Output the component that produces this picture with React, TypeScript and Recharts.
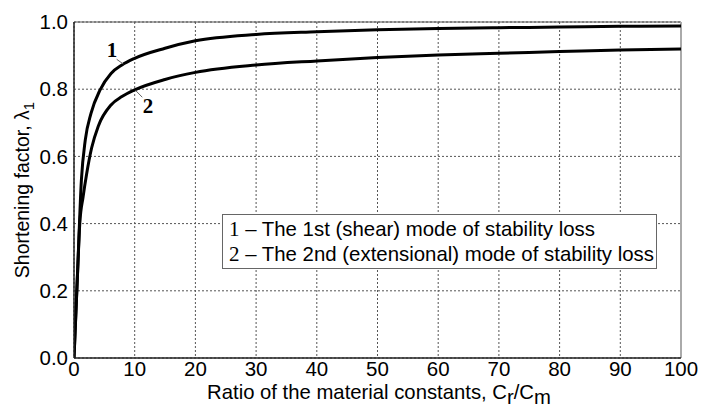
import React from "react";
import { LineChart, Line, XAxis, YAxis, CartesianGrid, ReferenceLine, ReferenceDot, Legend, Label } from "recharts";

// mode 1 (shear) and mode 2 (extensional)
const ratioShear = [0, 0.6, 1.22, 1.86, 2.8, 4.3, 6.1, 7.9, 10, 15, 20, 30, 40, 50, 60, 70, 80, 90, 100];
const lambdaShear = [0, 0.26, 0.53, 0.649, 0.728, 0.798, 0.847, 0.872, 0.892, 0.922, 0.944, 0.963, 0.971, 0.977, 0.981, 0.983, 0.985, 0.987, 0.988];
const ratioExt = [0, 0.6, 0.95, 1.5, 2.1, 2.9, 4.0, 6.1, 7.9, 10, 15, 20, 30, 40, 50, 60, 70, 80, 90, 100];
const lambdaExt = [0, 0.26, 0.4, 0.48, 0.55, 0.625, 0.69, 0.753, 0.778, 0.798, 0.829, 0.85, 0.872, 0.884, 0.894, 0.902, 0.907, 0.912, 0.917, 0.92];

const xTicks = [0, 10, 20, 30, 40, 50, 60, 70, 80, 90, 100];
const yTicks = [0, 0.2, 0.4, 0.6, 0.8, 1.0];
const modeIds = ["1", "2"];
const modeNames = ["The 1st (shear) mode of stability loss", "The 2nd (extensional) mode of stability loss"];

const shearData = ratioShear.map((x, i) => ({ x, y: lambdaShear[i] }));
const extData = ratioExt.map((x, i) => ({ x, y: lambdaExt[i] }));

const SANS = "'Liberation Sans', Arial, sans-serif";
const SERIF = "'Liberation Serif', 'Times New Roman', serif";

function XTitle() {
  return (
    <text x={379} y={398.5} textAnchor="middle" fontFamily={SANS} fontSize={20.3} fill="#000">
      Ratio of the material constants, C<tspan dy={5}>r</tspan>
      <tspan dy={-5}>/C</tspan>
      <tspan dy={5}>m</tspan>
    </text>
  );
}

function YTitle() {
  return (
    <text x={29} y={190} transform="rotate(-90, 29, 190)" textAnchor="middle" fontFamily={SANS} fontSize={19.5} fill="#000">
      Shortening factor, λ<tspan dy={5} fontSize={15}>1</tspan>
    </text>
  );
}

function LegendBox() {
  return (
    <div style={{
      border: "1.5px solid #666", background: "#fff", width: 435, height: 55, boxSizing: "border-box",
      padding: "2px 0 0 6px", fontFamily: SANS, fontSize: 20.4, lineHeight: "25px", color: "#000", whiteSpace: "nowrap",
    }}>
      {modeIds.map((id, i) => (
        <div key={id}>
          <span style={{ fontFamily: SERIF, fontSize: 21 }}>{id}</span> – {modeNames[i]}
        </div>
      ))}
    </div>
  );
}

export default function App() {
  return (
    <div style={{ position: "absolute", left: 0, top: 0, width: 701, height: 410, background: "#fff" }}>
      <LineChart width={701} height={410} margin={{ top: 22, right: 20, bottom: 0, left: 0 }}>
        <CartesianGrid stroke="#555" strokeDasharray="2 2" horizontalValues={yTicks} verticalValues={xTicks} />
        <XAxis type="number" dataKey="x" domain={[0, 100]} ticks={xTicks} height={52} allowDataOverflow
          tick={{ fontFamily: SANS, fontSize: 20.5, fill: "#000" }} tickLine={false} tickSize={3} tickMargin={0}
          axisLine={{ stroke: "#222", strokeWidth: 1.5 }}>
          <Label content={() => <XTitle />} />
        </XAxis>
        <YAxis type="number" dataKey="y" domain={[0, 1]} ticks={yTicks} width={74} allowDataOverflow
          tickFormatter={(v: number) => v.toFixed(1)}
          tick={{ fontFamily: SANS, fontSize: 20.5, fill: "#000" }} tickLine={false} tickSize={0} tickMargin={6}
          axisLine={{ stroke: "#222", strokeWidth: 1.5 }}>
          <Label content={() => <YTitle />} />
        </YAxis>
        <ReferenceLine y={1} stroke="#555" strokeWidth={1} />
        <ReferenceLine x={100} stroke="#aaa" strokeWidth={2} />
        <Line data={shearData} dataKey="y" type="monotone" stroke="#000" strokeWidth={3} dot={false} isAnimationActive={false} name="1" />
        <Line data={extData} dataKey="y" type="monotone" stroke="#000" strokeWidth={3} dot={false} isAnimationActive={false} name="2" />
        <ReferenceLine segment={[{ x: 7.03, y: 0.889 }, { x: 8.12, y: 0.875 }]} stroke="#666" strokeWidth={1} />
        <ReferenceLine segment={[{ x: 10.16, y: 0.796 }, { x: 11.25, y: 0.776 }]} stroke="#666" strokeWidth={1} />
        <ReferenceDot x={6.26} y={0.917} r={0} fill="none" stroke="none"
          label={{ value: "1", position: "center", fontFamily: SERIF, fontSize: 21, fontWeight: "bold", fill: "#000" }} />
        <ReferenceDot x={12.2} y={0.751} r={0} fill="none" stroke="none"
          label={{ value: "2", position: "center", fontFamily: SERIF, fontSize: 21, fontWeight: "bold", fill: "#000" }} />
        <Legend layout="horizontal" verticalAlign="middle" align="center" content={() => <LegendBox />}
          wrapperStyle={{ left: 222, top: 214, width: 435, height: 55 }} />
      </LineChart>
    </div>
  );
}
